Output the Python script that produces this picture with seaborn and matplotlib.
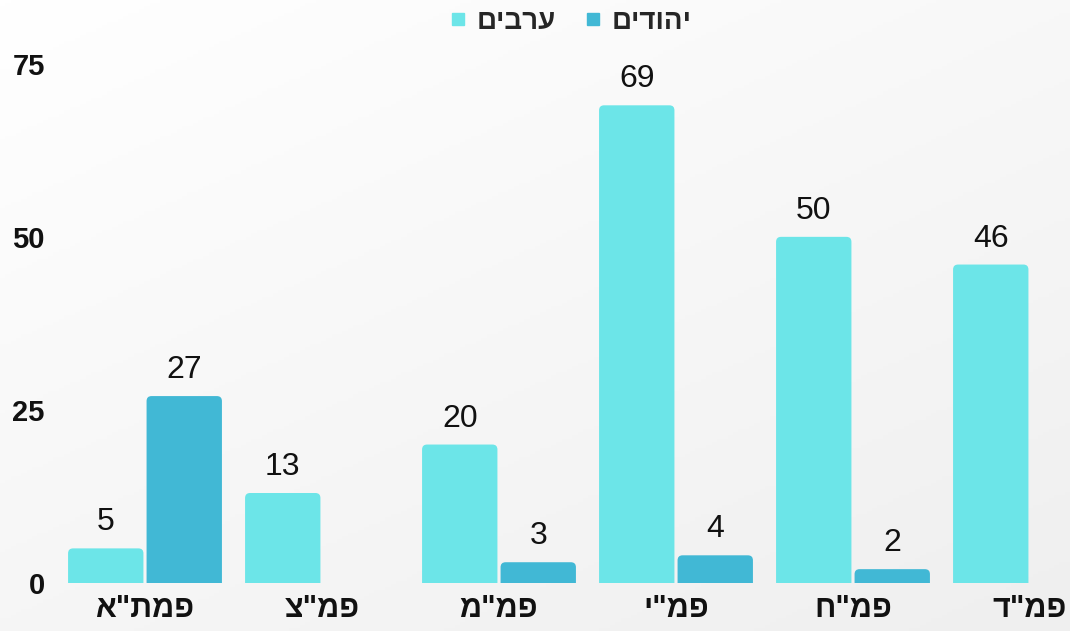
import numpy as np
import pandas as pd
import matplotlib
matplotlib.use("Agg")
import matplotlib.pyplot as plt
from matplotlib.patches import FancyBboxPatch
from matplotlib.lines import Line2D
import seaborn as sns

# ---- data ----
categories = ['פמת"א', 'פמ"צ', 'פמ"מ', 'פמ"י', 'פמ"ח', 'פמ"ד']
series_names = ['ערבים', 'יהודים']
arabs = [5, 13, 20, 69, 50, 46]
jews = [27, np.nan, 3, 4, 2, np.nan]
y_ticks = [0, 25, 50, 75]
colors = ['#6ce5e8', '#41b8d5']


def vis(s):
    # matplotlib renders left-to-right; reverse Hebrew for visual order
    return s[::-1]


sns.set_theme(style="white")
plt.rcParams['font.family'] = ['Liberation Sans', 'DejaVu Sans']

cat_vis = [vis(c) for c in categories]
ser_vis = [vis(s) for s in series_names]
df = pd.DataFrame({
    'cat': cat_vis * 2,
    'series': [ser_vis[0]] * len(cat_vis) + [ser_vis[1]] * len(cat_vis),
    'value': arabs + jews,
})

fig = plt.figure(figsize=(10.70, 6.31), dpi=100)

# background gradient
bg = fig.add_axes([0, 0, 1, 1], zorder=-10)
xx, yy = np.meshgrid(np.linspace(0, 1, 200), np.linspace(0, 1, 200))
grad = np.clip((xx * 0.6 + yy * 0.8) / 1.4, 0, 1)
bg.imshow(grad, cmap=matplotlib.colors.LinearSegmentedColormap.from_list('g', ['#ffffff', '#efefef']),
          extent=[0, 1, 0, 1], origin='upper', aspect='auto', vmin=0, vmax=1)
bg.axis('off')

W, H = 1070, 631
ax_left, ax_right = 60, 1070
ax_bottom, ax_top = 583, 43
ax = fig.add_axes([ax_left / W, 1 - ax_bottom / H, (ax_right - ax_left) / W, (ax_bottom - ax_top) / H])
ax.patch.set_alpha(0)

sns.barplot(data=df, x='cat', y='value', hue='series', order=cat_vis, hue_order=ser_vis,
            palette=colors, width=0.887, gap=0.04, ax=ax, legend=False, saturation=1,
            edgecolor='none', linewidth=0)

ymax = 78.0
ax.set_ylim(0, ymax)
px_per_x = 177.0
x0 = (ax_left - 145) / px_per_x
ax.set_xlim(x0, x0 + (ax_right - ax_left) / px_per_x)

# round the bar tops
px_per_y = (ax_bottom - ax_top) / ymax
r_px = 5
mut_aspect = (1 / px_per_y) / (1 / px_per_x)
bars = list(ax.patches)
for p in bars:
    h = p.get_height()
    if not np.isfinite(h) or h <= 0:
        p.remove()
        continue
    x, w = p.get_x(), p.get_width()
    fc = p.get_facecolor()
    p.remove()
    r = r_px / px_per_x
    fb = FancyBboxPatch((x, -r_px / px_per_y), w, h + r_px / px_per_y,
                        boxstyle=f"round,pad=0,rounding_size={r}",
                        mutation_aspect=mut_aspect, facecolor=fc, edgecolor='none', clip_on=True)
    ax.add_patch(fb)
    ax.text(x + w / 2, h + 11 / px_per_y, f"{int(h)}", ha='center', va='bottom',
            fontsize=23, color='#111111', clip_on=False)

ax.set_yticks(y_ticks)
ax.set_yticklabels([str(t) for t in y_ticks], fontsize=21, fontweight='bold', color='#111111')
ax.set_xticks(range(len(cat_vis)))
ax.set_xticklabels(cat_vis, fontsize=22, fontweight='bold', color='#111111')
ax.tick_params(axis='y', length=0, pad=11)
ax.tick_params(axis='x', length=0, pad=8)
ax.set_xlabel('')
ax.set_ylabel('')
for s in ax.spines.values():
    s.set_visible(False)

handles = [Line2D([], [], marker='s', linestyle='none', markersize=8, color=c) for c in colors]
fig.legend(handles, ser_vis, loc='center', bbox_to_anchor=(570 / W, 1 - 22 / H), ncol=2,
           frameon=False, prop={'size': 20, 'weight': 'bold'}, handletextpad=0.3,
           columnspacing=1.0, handlelength=0.7)

fig.savefig('out.png', dpi=100)
